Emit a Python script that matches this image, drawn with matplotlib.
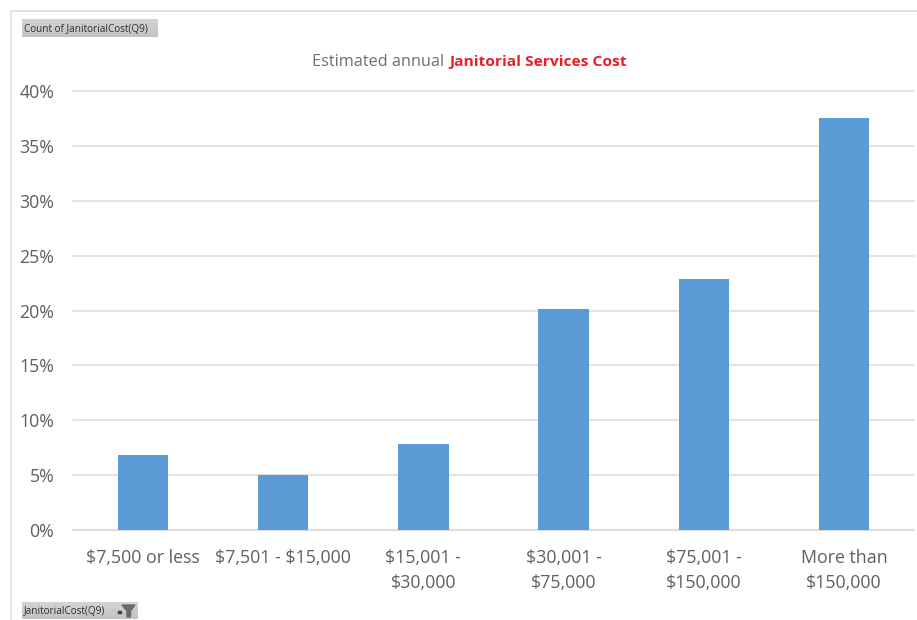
import matplotlib
matplotlib.use("Agg")
import matplotlib.pyplot as plt
import numpy as np
from matplotlib.patches import Polygon

W, H = 917, 620

categories = ["$7,500 or less", "$7,501 - $15,000", "$15,001 -\n$30,000",
              "$30,001 -\n$75,000", "$75,001 -\n$150,000", "More than\n$150,000"]
shares = [6.8, 5.0, 7.8, 20.1, 22.9, 37.5]
y_ticks = [0, 5, 10, 15, 20, 25, 30, 35, 40]

BAR = "#5B9BD5"
GRID = "#DEDEDE"
TEXT = "#5F5F5F"

plt.rcParams["font.family"] = ["Open Sans", "DejaVu Sans"]
plt.rcParams["text.parse_math"] = False


def fx(px):
    return px / W


def fy(py):
    return 1 - py / H


fig = plt.figure(figsize=(W / 100, H / 100), dpi=100, facecolor="white")

# Main plot area
ax = fig.add_axes([fx(73), fy(530), (914 - 73) / W, (530 - 91) / H])
positions = np.arange(len(categories))
ax.bar(positions, shares, width=0.36, color=BAR, zorder=3)
ax.set_xlim(-0.5, len(categories) - 0.5)
ax.set_ylim(0, 40)
ax.set_yticks(y_ticks)
ax.set_yticklabels([f"{v}%" for v in y_ticks])
ax.set_xticks(positions)
ax.set_xticklabels(categories, linespacing=1.5)
ax.grid(axis="y", color=GRID, linewidth=1.2, zorder=0, clip_on=False)
ax.tick_params(axis="both", length=0, labelsize=12.8, labelcolor=TEXT)
ax.tick_params(axis="x", pad=13.5)
ax.tick_params(axis="y", pad=13.5)
for side in ("top", "right", "left"):
    ax.spines[side].set_visible(False)
ax.spines["bottom"].set_color(GRID)
ax.spines["bottom"].set_linewidth(1.6)

# Outer frame: top and left edges only
fig.add_artist(plt.Line2D([fx(11), 1], [fy(11), fy(11)], color="#D8D8D8", lw=1.1))
fig.add_artist(plt.Line2D([fx(11), fx(11)], [fy(11), 0], color="#E2E2E2", lw=1.1))

# Two-tone title sharing one baseline
fig.text(fx(444), fy(66), "Estimated annual", ha="right", va="baseline",
         fontsize=11.7, color="#6E6E6E")
fig.text(fx(449), fy(66), "Janitorial Services Cost", ha="left", va="baseline",
         fontsize=11.15, color="#EE1C25", fontweight="bold")


def field_button(x0, x1, y0, y1, label):
    """Grey pivot-chart field button with a soft vertical gradient."""
    btn = fig.add_axes([fx(x0), fy(y1), (x1 - x0) / W, (y1 - y0) / H], zorder=5)
    shade = np.linspace(0.83, 0.76, 32).reshape(-1, 1)
    btn.imshow(shade, cmap="gray", vmin=0, vmax=1, aspect="auto",
               extent=[x0, x1, y1, y0])
    btn.axis("off")
    btn.text(x0 + 2, (y0 + y1) / 2 + 1, label, ha="left", va="center",
             fontsize=7.2, color="#303030")
    return btn


field_button(22, 158, 19, 37, "Count of JanitorialCost(Q9)")
lower = field_button(22, 138, 602, 619, "JanitorialCost(Q9)")
lower.set_xlim(22, 138)
lower.set_ylim(619, 602)

# Sort marker and filter funnel on the lower button
lower.add_patch(plt.Rectangle((118, 610.5), 2.5, 2.5, color="#404040"))
lower.add_patch(Polygon([(122, 605), (135, 605), (130.5, 611), (130.5, 617),
                         (127, 617), (127, 611)], closed=True,
                        color="#6A6A6A"))

fig.savefig("out.png", dpi=100, facecolor="white")
